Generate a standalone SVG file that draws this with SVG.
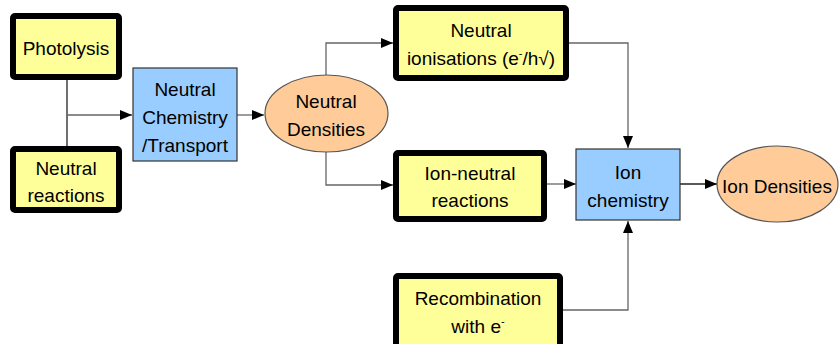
<svg xmlns="http://www.w3.org/2000/svg" width="840" height="344" viewBox="0 0 840 344">
<style>
.y{fill:#ffff99;stroke:#000;stroke-width:6}
.b{fill:#99ccff;stroke:#333;stroke-width:1.2}
.e{fill:#ffcc99;stroke:#555;stroke-width:1.2}
.t{font-family:"Liberation Sans",Arial,sans-serif;font-size:19px;fill:#000;text-anchor:middle}
.c{fill:none;stroke:#666;stroke-width:1.3}
.sup{font-size:11px}
</style>
<defs>
<marker id="a" markerUnits="userSpaceOnUse" markerWidth="12" markerHeight="10" refX="12" refY="5" orient="auto">
<path d="M0,0L12,5L0,10z" fill="#000"/>
</marker>
</defs>
<g id="connectors">
<path class="c" d="M67,80V146" style="stroke:#222"/>
<path class="c" d="M67,115H132" marker-end="url(#a)"/>
<path class="c" d="M237,115H264" marker-end="url(#a)"/>
<path class="c" d="M326,75V43H393" marker-end="url(#a)"/>
<path class="c" d="M326,152V185H393" marker-end="url(#a)"/>
<path class="c" d="M569,43H628V148" marker-end="url(#a)"/>
<path class="c" d="M547,184H576" marker-end="url(#a)"/>
<path class="c" d="M680,184H717" marker-end="url(#a)" style="stroke:#222"/>
<path class="c" d="M563,310H628V221" marker-end="url(#a)"/>
</g>
<g id="photolysis">
<rect class="y" x="13" y="16" width="106" height="61" rx="2"/>
<text class="t" x="66" y="55">Photolysis</text>
</g>
<g id="neutral-reactions">
<rect class="y" x="13" y="149" width="106" height="61" rx="2"/>
<text class="t" x="66" y="175">Neutral</text>
<text class="t" x="66" y="202">reactions</text>
</g>
<g id="neutral-chemistry">
<rect class="b" x="133" y="68" width="104" height="93"/>
<text class="t" x="185" y="96">Neutral</text>
<text class="t" x="185" y="124">Chemistry</text>
<text class="t" x="185" y="152">/Transport</text>
</g>
<g id="neutral-densities">
<ellipse class="e" cx="326.5" cy="113.5" rx="61.5" ry="38.5"/>
<text class="t" x="326" y="108">Neutral</text>
<text class="t" x="326" y="136">Densities</text>
</g>
<g id="neutral-ionisations">
<rect class="y" x="396" y="8" width="170" height="70" rx="2"/>
<text class="t" x="481" y="37">Neutral</text>
<text class="t" x="481" y="65">ionisations (e<tspan class="sup" dy="-8">-</tspan><tspan dy="8">/h√)</tspan></text>
</g>
<g id="ion-neutral">
<rect class="y" x="396" y="153" width="148" height="66" rx="2"/>
<text class="t" x="470" y="180">Ion-neutral</text>
<text class="t" x="470" y="207">reactions</text>
</g>
<g id="recombination">
<rect class="y" x="396" y="276" width="164" height="76" rx="2"/>
<text class="t" x="478" y="305">Recombination</text>
<text class="t" x="478" y="333">with e<tspan class="sup" dy="-8">-</tspan></text>
</g>
<g id="ion-chemistry">
<rect class="b" x="576" y="149" width="104" height="71"/>
<text class="t" x="628" y="179">Ion</text>
<text class="t" x="628" y="207">chemistry</text>
</g>
<g id="ion-densities">
<ellipse class="e" cx="777.5" cy="184" rx="60.5" ry="38"/>
<text class="t" x="777" y="193">Ion Densities</text>
</g>
</svg>
